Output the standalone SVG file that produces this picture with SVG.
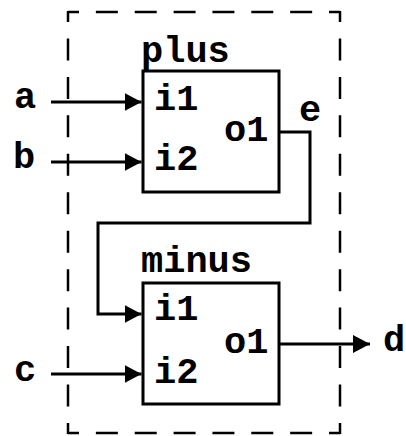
<svg xmlns="http://www.w3.org/2000/svg" width="406" height="436" viewBox="0 0 406 436">
<style>
text{font-family:"Liberation Mono","Courier New",monospace;font-weight:bold;font-size:37px;fill:#000}
.box{fill:#fff;stroke:#000;stroke-width:3}
.w{fill:none;stroke:#000;stroke-width:3}
.dh{fill:none;stroke:#000;stroke-width:2.5;stroke-dasharray:22 16.86;stroke-dashoffset:11}
.dv{fill:none;stroke:#000;stroke-width:2.5;stroke-dasharray:22 16.45;stroke-dashoffset:11}
</style>
<defs>
<marker id="ah" markerWidth="17" markerHeight="18" refX="17" refY="9" orient="auto" markerUnits="userSpaceOnUse">
<path d="M0,0 L17,9 L0,18 Z" fill="#000"/>
</marker>
</defs>
<g id="boundary">
<path class="dh" d="M68,12 H340"/>
<path class="dh" d="M68,433 H340"/>
<path class="dv" d="M68,11 V434"/>
<path class="dv" d="M340,11 V434"/>
</g>
<g id="plus">
<rect class="box" x="143" y="71" width="136" height="121"/>
<text x="141" y="62">plus</text>
<text x="154" y="110">i1</text>
<text x="154" y="170">i2</text>
<text x="224" y="141">o1</text>
</g>
<g id="minus">
<rect class="box" x="143" y="283" width="136" height="121"/>
<text x="141" y="272">minus</text>
<text x="154" y="320">i1</text>
<text x="154" y="383">i2</text>
<text x="224" y="353">o1</text>
</g>
<g id="labels">
<text x="14" y="108">a</text>
<text x="13" y="168">b</text>
<text x="14" y="381">c</text>
<text x="383" y="351">d</text>
<text x="299" y="121">e</text>
</g>
<g id="connectors">
<path class="w" d="M51,102 H141.5" marker-end="url(#ah)"/>
<path class="w" d="M51,162 H141.5" marker-end="url(#ah)"/>
<path class="w" d="M51,374 H141.5" marker-end="url(#ah)"/>
<path class="w" d="M279,132 H310 V223 H98 V314 H141.5" marker-end="url(#ah)"/>
<path class="w" d="M279,344 H370" marker-end="url(#ah)"/>
</g>
</svg>
